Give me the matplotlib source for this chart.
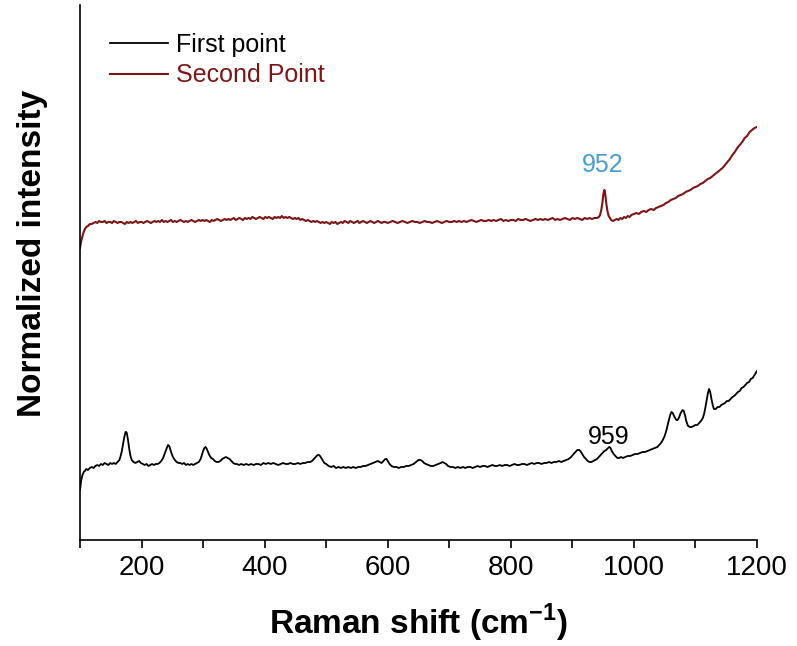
import matplotlib
matplotlib.use("Agg")
import matplotlib.pyplot as plt
from matplotlib.ticker import MultipleLocator

# ---- data (Raman shift in cm^-1, normalized intensity in arbitrary units) ----
first_x = [100, 102, 104, 106, 108, 110, 113, 116, 119, 122,
           125, 128, 131, 134, 137, 140, 143, 146, 149, 152,
           155, 158, 161, 164, 166, 168, 170, 172, 174, 175,
           176, 178, 180, 182, 184, 187, 190, 193, 196, 199,
           202, 205, 208, 211, 214, 217, 220, 223, 226, 229,
           232, 235, 238, 241, 243, 245, 247, 249, 251, 254,
           257, 260, 263, 266, 269, 272, 275, 278, 281, 284,
           287, 290, 293, 296, 298, 300, 302, 304, 306, 308,
           310, 313, 316, 319, 322, 325, 328, 331, 334, 337,
           340, 343, 346, 349, 352, 355, 358, 362, 366, 370,
           374, 378, 382, 386, 390, 394, 398, 402, 406, 410,
           414, 418, 422, 426, 430, 434, 438, 442, 446, 450,
           454, 458, 462, 466, 470, 474, 477, 480, 483, 486,
           488, 490, 492, 494, 497, 500, 504, 508, 512, 516,
           520, 524, 528, 532, 536, 540, 544, 548, 552, 556,
           560, 564, 568, 572, 576, 580, 584, 587, 590, 593,
           596, 598, 600, 603, 606, 610, 614, 618, 622, 626,
           630, 634, 638, 642, 646, 650, 653, 656, 659, 662,
           666, 670, 674, 678, 682, 686, 689, 692, 695, 698,
           702, 706, 710, 714, 718, 722, 726, 730, 734, 738,
           742, 746, 750, 754, 758, 762, 766, 770, 774, 778,
           782, 786, 790, 794, 798, 802, 806, 810, 814, 818,
           822, 826, 830, 834, 838, 842, 846, 850, 854, 858,
           862, 866, 870, 874, 878, 882, 886, 890, 894, 898,
           902, 905, 908, 911, 913, 916, 919, 922, 925, 928,
           931, 934, 937, 940, 943, 946, 949, 952, 955, 958,
           960, 962, 964, 967, 970, 973, 976, 979, 982, 986,
           990, 994, 998, 1002, 1006, 1010, 1014, 1018, 1022, 1026,
           1030, 1034, 1038, 1041, 1044, 1047, 1050, 1053, 1056, 1059,
           1061, 1063, 1066, 1069, 1071, 1073, 1076, 1079, 1081, 1083,
           1085, 1088, 1091, 1094, 1097, 1100, 1103, 1106, 1109, 1112,
           1114, 1116, 1118, 1120, 1122, 1124, 1126, 1128, 1130, 1133,
           1136, 1139, 1142, 1145, 1148, 1151, 1154, 1157, 1160, 1163,
           1166, 1169, 1172, 1175, 1178, 1181, 1184, 1187, 1190, 1193,
           1196, 1198, 1200]
first_y = [50, 60, 65, 68, 69, 71, 70, 72, 73, 72,
           74, 75, 74, 76, 75, 77, 76, 75, 77, 76,
           77, 76, 78, 80, 84, 89, 96, 103, 108, 108,
           107, 100, 91, 84, 80, 78, 77, 78, 79, 77,
           76, 75, 76, 74, 75, 76, 75, 76, 76, 77,
           79, 82, 87, 92, 95, 94, 90, 86, 83, 80,
           78, 77, 77, 76, 77, 75, 76, 75, 76, 75,
           76, 77, 78, 81, 85, 89, 92, 93, 91, 88,
           85, 82, 81, 79, 78, 78, 79, 81, 82, 83,
           82, 81, 79, 77, 76, 76, 75, 76, 75, 76,
           75, 76, 75, 76, 76, 75, 77, 76, 77, 76,
           77, 76, 75, 76, 77, 76, 76, 77, 76, 76,
           77, 76, 77, 77, 78, 78, 79, 81, 83, 85,
           85, 84, 82, 80, 77, 76, 74, 73, 74, 72,
           73, 72, 73, 72, 73, 72, 73, 72, 73, 73,
           74, 74, 75, 76, 77, 78, 79, 78, 77, 79,
           81, 81, 79, 76, 74, 73, 73, 72, 73, 73,
           74, 74, 75, 76, 78, 80, 80, 79, 77, 76,
           75, 74, 74, 75, 76, 77, 78, 77, 76, 74,
           73, 73, 72, 73, 72, 73, 72, 73, 73, 72,
           73, 74, 73, 74, 74, 73, 74, 75, 74, 74,
           75, 74, 75, 75, 74, 75, 76, 75, 75, 76,
           76, 75, 76, 77, 76, 77, 77, 76, 77, 77,
           78, 77, 78, 78, 79, 78, 79, 80, 81, 83,
           86, 88, 90, 90, 89, 86, 83, 81, 79, 78,
           78, 79, 80, 81, 83, 85, 87, 89, 90, 92,
           93, 92, 89, 86, 84, 82, 82, 83, 82, 83,
           84, 84, 85, 86, 86, 87, 88, 88, 89, 90,
           91, 92, 93, 95, 97, 100, 104, 110, 118, 125,
           128, 127, 123, 120, 120, 122, 127, 130, 129, 125,
           119, 114, 113, 113, 114, 115, 115, 117, 119, 122,
           126, 132, 139, 146, 151, 148, 141, 135, 131, 131,
           133, 133, 135, 136, 137, 139, 139, 141, 143, 144,
           146, 148, 149, 152, 153, 155, 157, 158, 161, 162,
           165, 167, 169]

second_x = [100, 102, 104, 106, 108, 110, 113, 116, 119, 122,
            125, 128, 131, 134, 137, 140, 143, 146, 149, 152,
            155, 158, 161, 164, 167, 170, 173, 176, 179, 182,
            185, 188, 191, 194, 197, 200, 203, 206, 209, 212,
            215, 218, 221, 224, 227, 230, 233, 236, 239, 242,
            245, 248, 251, 254, 257, 260, 263, 266, 269, 272,
            275, 278, 281, 284, 287, 290, 293, 296, 299, 302,
            305, 308, 311, 314, 317, 320, 323, 326, 329, 332,
            335, 338, 341, 344, 347, 350, 353, 356, 359, 362,
            365, 368, 371, 374, 377, 380, 383, 386, 389, 392,
            395, 398, 401, 404, 407, 410, 413, 416, 419, 422,
            425, 428, 431, 434, 437, 440, 443, 446, 449, 452,
            455, 458, 461, 464, 467, 470, 473, 476, 479, 482,
            485, 488, 491, 494, 497, 500, 503, 506, 509, 512,
            515, 518, 521, 524, 527, 530, 533, 536, 539, 542,
            545, 548, 551, 554, 557, 560, 563, 566, 569, 572,
            575, 578, 581, 584, 587, 590, 593, 596, 600, 604,
            608, 612, 616, 620, 624, 628, 632, 636, 640, 644,
            648, 652, 656, 660, 664, 668, 672, 676, 680, 684,
            688, 692, 696, 700, 704, 708, 712, 716, 720, 724,
            728, 732, 736, 740, 744, 748, 752, 756, 760, 764,
            768, 772, 776, 780, 784, 788, 792, 796, 800, 804,
            808, 812, 816, 820, 824, 828, 832, 836, 840, 844,
            848, 852, 856, 860, 864, 868, 872, 876, 880, 884,
            888, 892, 896, 900, 904, 908, 912, 916, 920, 924,
            928, 932, 936, 940, 943, 945, 947, 949, 950, 951,
            952, 953, 954, 955, 957, 959, 961, 963, 966, 969,
            972, 975, 978, 981, 984, 987, 990, 993, 996, 1000,
            1004, 1008, 1012, 1016, 1020, 1024, 1028, 1032, 1036, 1040,
            1044, 1048, 1052, 1056, 1060, 1064, 1068, 1072, 1076, 1080,
            1084, 1088, 1092, 1096, 1100, 1104, 1108, 1112, 1116, 1120,
            1124, 1128, 1132, 1136, 1140, 1144, 1148, 1152, 1156, 1160,
            1164, 1168, 1172, 1176, 1180, 1184, 1188, 1192, 1196, 1200]
second_y = [292, 299, 304, 308, 311, 313, 314, 316, 316, 317,
            318, 317, 319, 318, 318, 319, 317, 318, 318, 317,
            319, 318, 317, 318, 318, 317, 316, 318, 317, 318,
            317, 318, 319, 317, 318, 318, 317, 318, 319, 318,
            317, 318, 319, 318, 319, 318, 320, 318, 319, 318,
            319, 320, 318, 319, 318, 319, 320, 319, 318, 319,
            318, 319, 320, 319, 318, 319, 320, 319, 320, 319,
            320, 319, 318, 320, 319, 320, 321, 320, 319, 320,
            321, 320, 321, 320, 321, 322, 320, 321, 322, 321,
            320, 322, 321, 322, 321, 323, 322, 321, 322, 323,
            322, 321, 323, 322, 323, 322, 321, 323, 322, 323,
            322, 324, 322, 323, 322, 323, 322, 321, 322, 321,
            322, 320, 321, 320, 319, 320, 319, 318, 319, 318,
            319, 318, 317, 318, 317, 318, 317, 316, 318, 317,
            318, 316, 317, 318, 317, 319, 318, 317, 319, 318,
            317, 318, 319, 317, 318, 319, 318, 317, 318, 319,
            318, 317, 318, 319, 318, 317, 318, 318, 317, 318,
            319, 318, 317, 318, 319, 318, 317, 318, 319, 318,
            318, 317, 318, 319, 318, 318, 317, 318, 319, 318,
            317, 318, 319, 318, 318, 319, 318, 319, 318, 319,
            318, 319, 320, 319, 318, 319, 320, 319, 319, 320,
            319, 320, 319, 320, 321, 319, 320, 319, 320, 320,
            319, 321, 320, 320, 321, 320, 319, 320, 321, 320,
            321, 320, 321, 320, 321, 322, 320, 321, 320, 321,
            322, 321, 320, 322, 321, 322, 321, 320, 322, 321,
            322, 321, 322, 322, 323, 325, 330, 338, 344, 348,
            350, 348, 343, 337, 329, 324, 322, 320, 319, 320,
            321, 320, 322, 321, 323, 322, 324, 323, 325, 326,
            327, 326, 328, 329, 328, 330, 331, 330, 332, 333,
            334, 335, 337, 338, 340, 341, 342, 344, 345, 346,
            348, 349, 350, 352, 353, 354, 356, 357, 359, 361,
            362, 364, 366, 368, 370, 372, 375, 378, 381, 385,
            388, 392, 395, 398, 402, 404, 408, 410, 412, 413]

ticks = [200, 400, 600, 800, 1000, 1200]
labels = ["First point", "Second Point"]
colors = ["#000000", "#7a1616"]

plt.rcParams["font.family"] = ["Liberation Sans", "DejaVu Sans"]

fig = plt.figure(figsize=(7.97, 6.46), dpi=100)
ax = fig.add_axes([0.1004, 0.1641, 0.8494, 0.8282])

ax.plot(first_x, first_y, color=colors[0], lw=1.3, label=labels[0])
ax.plot(second_x, second_y, color=colors[1], lw=1.5, label=labels[1])

ax.set_xlim(100, 1200)
ax.set_ylim(0, 535)
ax.set_xticks(ticks)
ax.xaxis.set_minor_locator(MultipleLocator(100))
ax.set_yticks([])
for s in ["top", "right"]:
    ax.spines[s].set_visible(False)
ax.spines["left"].set_linewidth(1.2)
ax.spines["bottom"].set_linewidth(1.2)
ax.tick_params(axis="x", which="major", direction="out", length=6, width=1.2, pad=5, labelsize=20)
ax.tick_params(axis="x", which="minor", direction="out", length=6, width=1.2)

ax.set_xlabel("Raman shift (cm$^{\\mathregular{-1}}$)", fontsize=24, fontweight="bold", labelpad=15)
ax.set_ylabel("Normalized intensity", fontsize=24, fontweight="bold")
ax.yaxis.set_label_coords(-0.048, 0.535)

ax.text(950, 375, "952", color="#4a9ccb", fontsize=18, ha="center", va="center")
ax.text(959, 103, "959", color="black", fontsize=18, ha="center", va="center")

leg = ax.legend(loc="upper left", bbox_to_anchor=(110 / 797, 1 - 33 / 646),
                bbox_transform=fig.transFigure, frameon=False,
                handlelength=2.3, handletextpad=0.33, labelspacing=0.25,
                borderpad=0, borderaxespad=0, prop={"size": 18})
for txt, c in zip(leg.get_texts(), colors):
    txt.set_color(c)

fig.savefig("out.png", dpi=100)
